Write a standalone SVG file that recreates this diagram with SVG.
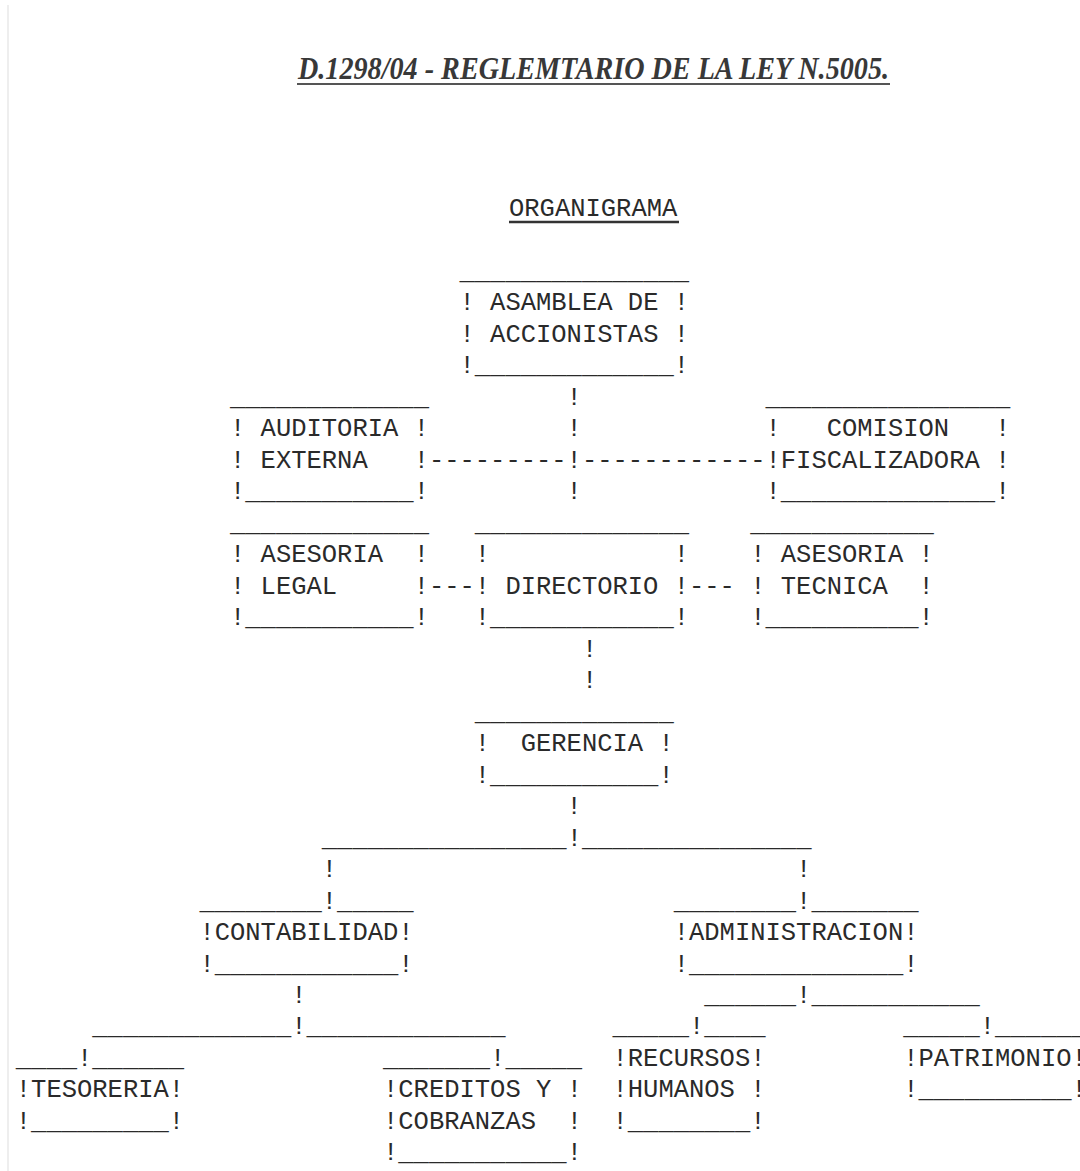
<svg xmlns="http://www.w3.org/2000/svg" width="1080" height="1171" viewBox="0 0 1080 1171" xml:space="preserve">
  <style>
    .t { font-family: "Liberation Mono", "Courier New", monospace; font-size: 25.5px; fill: #2a2a2a; white-space: pre; }
    .title { font-family: "Liberation Serif", "Times New Roman", serif; font-size: 31px; font-weight: bold; font-style: italic; fill: #383838; }
  </style>
  <rect x="0" y="0" width="1080" height="1171" fill="#ffffff"/>
  <!-- faint page edge -->
  <line x1="8" y1="5" x2="8" y2="1171" stroke="#eeeeee" stroke-width="2"/>

  <!-- heading -->
  <g id="heading">
    <text class="title" x="298" y="79" textLength="591" lengthAdjust="spacingAndGlyphs">D.1298/04 - REGLEMTARIO DE LA LEY N.5005.</text>
    <line x1="297" y1="84" x2="890" y2="84" stroke="#555" stroke-width="2"/>
    <text class="t" x="509" y="216">ORGANIGRAMA</text>
    <line x1="509" y1="222" x2="679" y2="222" stroke="#333" stroke-width="2.5"/>
  </g>

  <!-- column grid: x = 15.8 + 15.3*col ; row baseline = 310.4 + 31.48*(row-1) -->
  <g id="asamblea">
    <text class="t" x="459.5" y="278.9">_______________</text>
    <text class="t" x="459.5" y="310.4">! ASAMBLEA DE !</text>
    <text class="t" x="459.5" y="341.9">! ACCIONISTAS !</text>
    <text class="t" x="459.5" y="373.4">!_____________!</text>
  </g>

  <g id="auditoria">
    <text class="t" x="230" y="404.8">_____________</text>
    <text class="t" x="230" y="436.3">! AUDITORIA !</text>
    <text class="t" x="230" y="467.8">! EXTERNA   !</text>
    <text class="t" x="230" y="499.3">!___________!</text>
  </g>

  <g id="comision">
    <text class="t" x="765.5" y="404.8">________________</text>
    <text class="t" x="765.5" y="436.3">!   COMISION   !</text>
    <text class="t" x="765.5" y="467.8">!FISCALIZADORA !</text>
    <text class="t" x="765.5" y="499.3">!______________!</text>
  </g>

  <g id="asesoria-legal">
    <text class="t" x="230" y="530.8">_____________</text>
    <text class="t" x="230" y="562.2">! ASESORIA  !</text>
    <text class="t" x="230" y="593.7">! LEGAL     !</text>
    <text class="t" x="230" y="625.2">!___________!</text>
  </g>

  <g id="directorio">
    <text class="t" x="474.8" y="530.8">______________</text>
    <text class="t" x="474.8" y="562.2">!            !</text>
    <text class="t" x="474.8" y="593.7">! DIRECTORIO !</text>
    <text class="t" x="474.8" y="625.2">!____________!</text>
  </g>

  <g id="asesoria-tecnica">
    <text class="t" x="750.2" y="530.8">____________</text>
    <text class="t" x="750.2" y="562.2">! ASESORIA !</text>
    <text class="t" x="750.2" y="593.7">! TECNICA  !</text>
    <text class="t" x="750.2" y="625.2">!__________!</text>
  </g>

  <g id="gerencia">
    <text class="t" x="474.8" y="719.6">_____________</text>
    <text class="t" x="474.8" y="751.1">!  GERENCIA !</text>
    <text class="t" x="474.8" y="782.6">!___________!</text>
  </g>

  <g id="contabilidad">
    <text class="t" x="199.4" y="908.5">________!_____</text>
    <text class="t" x="199.4" y="940">!CONTABILIDAD!</text>
    <text class="t" x="199.4" y="971.5">!____________!</text>
  </g>

  <g id="administracion">
    <text class="t" x="673.7" y="908.5">________!_______</text>
    <text class="t" x="673.7" y="940">!ADMINISTRACION!</text>
    <text class="t" x="673.7" y="971.5">!______________!</text>
  </g>

  <g id="tesoreria">
    <text class="t" x="15.8" y="1065.9">____!______</text>
    <text class="t" x="15.8" y="1097.4">!TESORERIA!</text>
    <text class="t" x="15.8" y="1128.9">!_________!</text>
  </g>

  <g id="creditos">
    <text class="t" x="383" y="1065.9">_______!_____</text>
    <text class="t" x="383" y="1097.4">!CREDITOS Y !</text>
    <text class="t" x="383" y="1128.9">!COBRANZAS  !</text>
    <text class="t" x="383" y="1160.4">!___________!</text>
  </g>

  <g id="recursos">
    <text class="t" x="612.5" y="1034.4">_____!____</text>
    <text class="t" x="612.5" y="1065.9">!RECURSOS!</text>
    <text class="t" x="612.5" y="1097.4">!HUMANOS !</text>
    <text class="t" x="612.5" y="1128.9">!________!</text>
  </g>

  <g id="patrimonio">
    <text class="t" x="903.2" y="1034.4">_____!______</text>
    <text class="t" x="903.2" y="1065.9">!PATRIMONIO!</text>
    <text class="t" x="903.2" y="1097.4">!__________!</text>
  </g>

  <!-- connectors drawn with the same characters -->
  <g id="connectors">
    <text class="t" x="566.6" y="404.8">!</text>
    <text class="t" x="566.6" y="436.3">!</text>
    <text class="t" x="428.9" y="467.8">---------!------------</text>
    <text class="t" x="566.6" y="499.3">!</text>
    <text class="t" x="428.9" y="593.7">---</text>
    <text class="t" x="689" y="593.7">---</text>
    <text class="t" x="581.9" y="656.7">!</text>
    <text class="t" x="581.9" y="688.2">!</text>
    <text class="t" x="566.6" y="814.1">!</text>
    <text class="t" x="321.8" y="845.6">________________!_______________</text>
    <text class="t" x="321.8" y="877">!</text>
    <text class="t" x="796.1" y="877">!</text>
    <text class="t" x="291.2" y="1003">!</text>
    <text class="t" x="704.3" y="1003">______!___________</text>
    <text class="t" x="92.3" y="1034.4">_____________!_____________</text>
  </g>
</svg>
